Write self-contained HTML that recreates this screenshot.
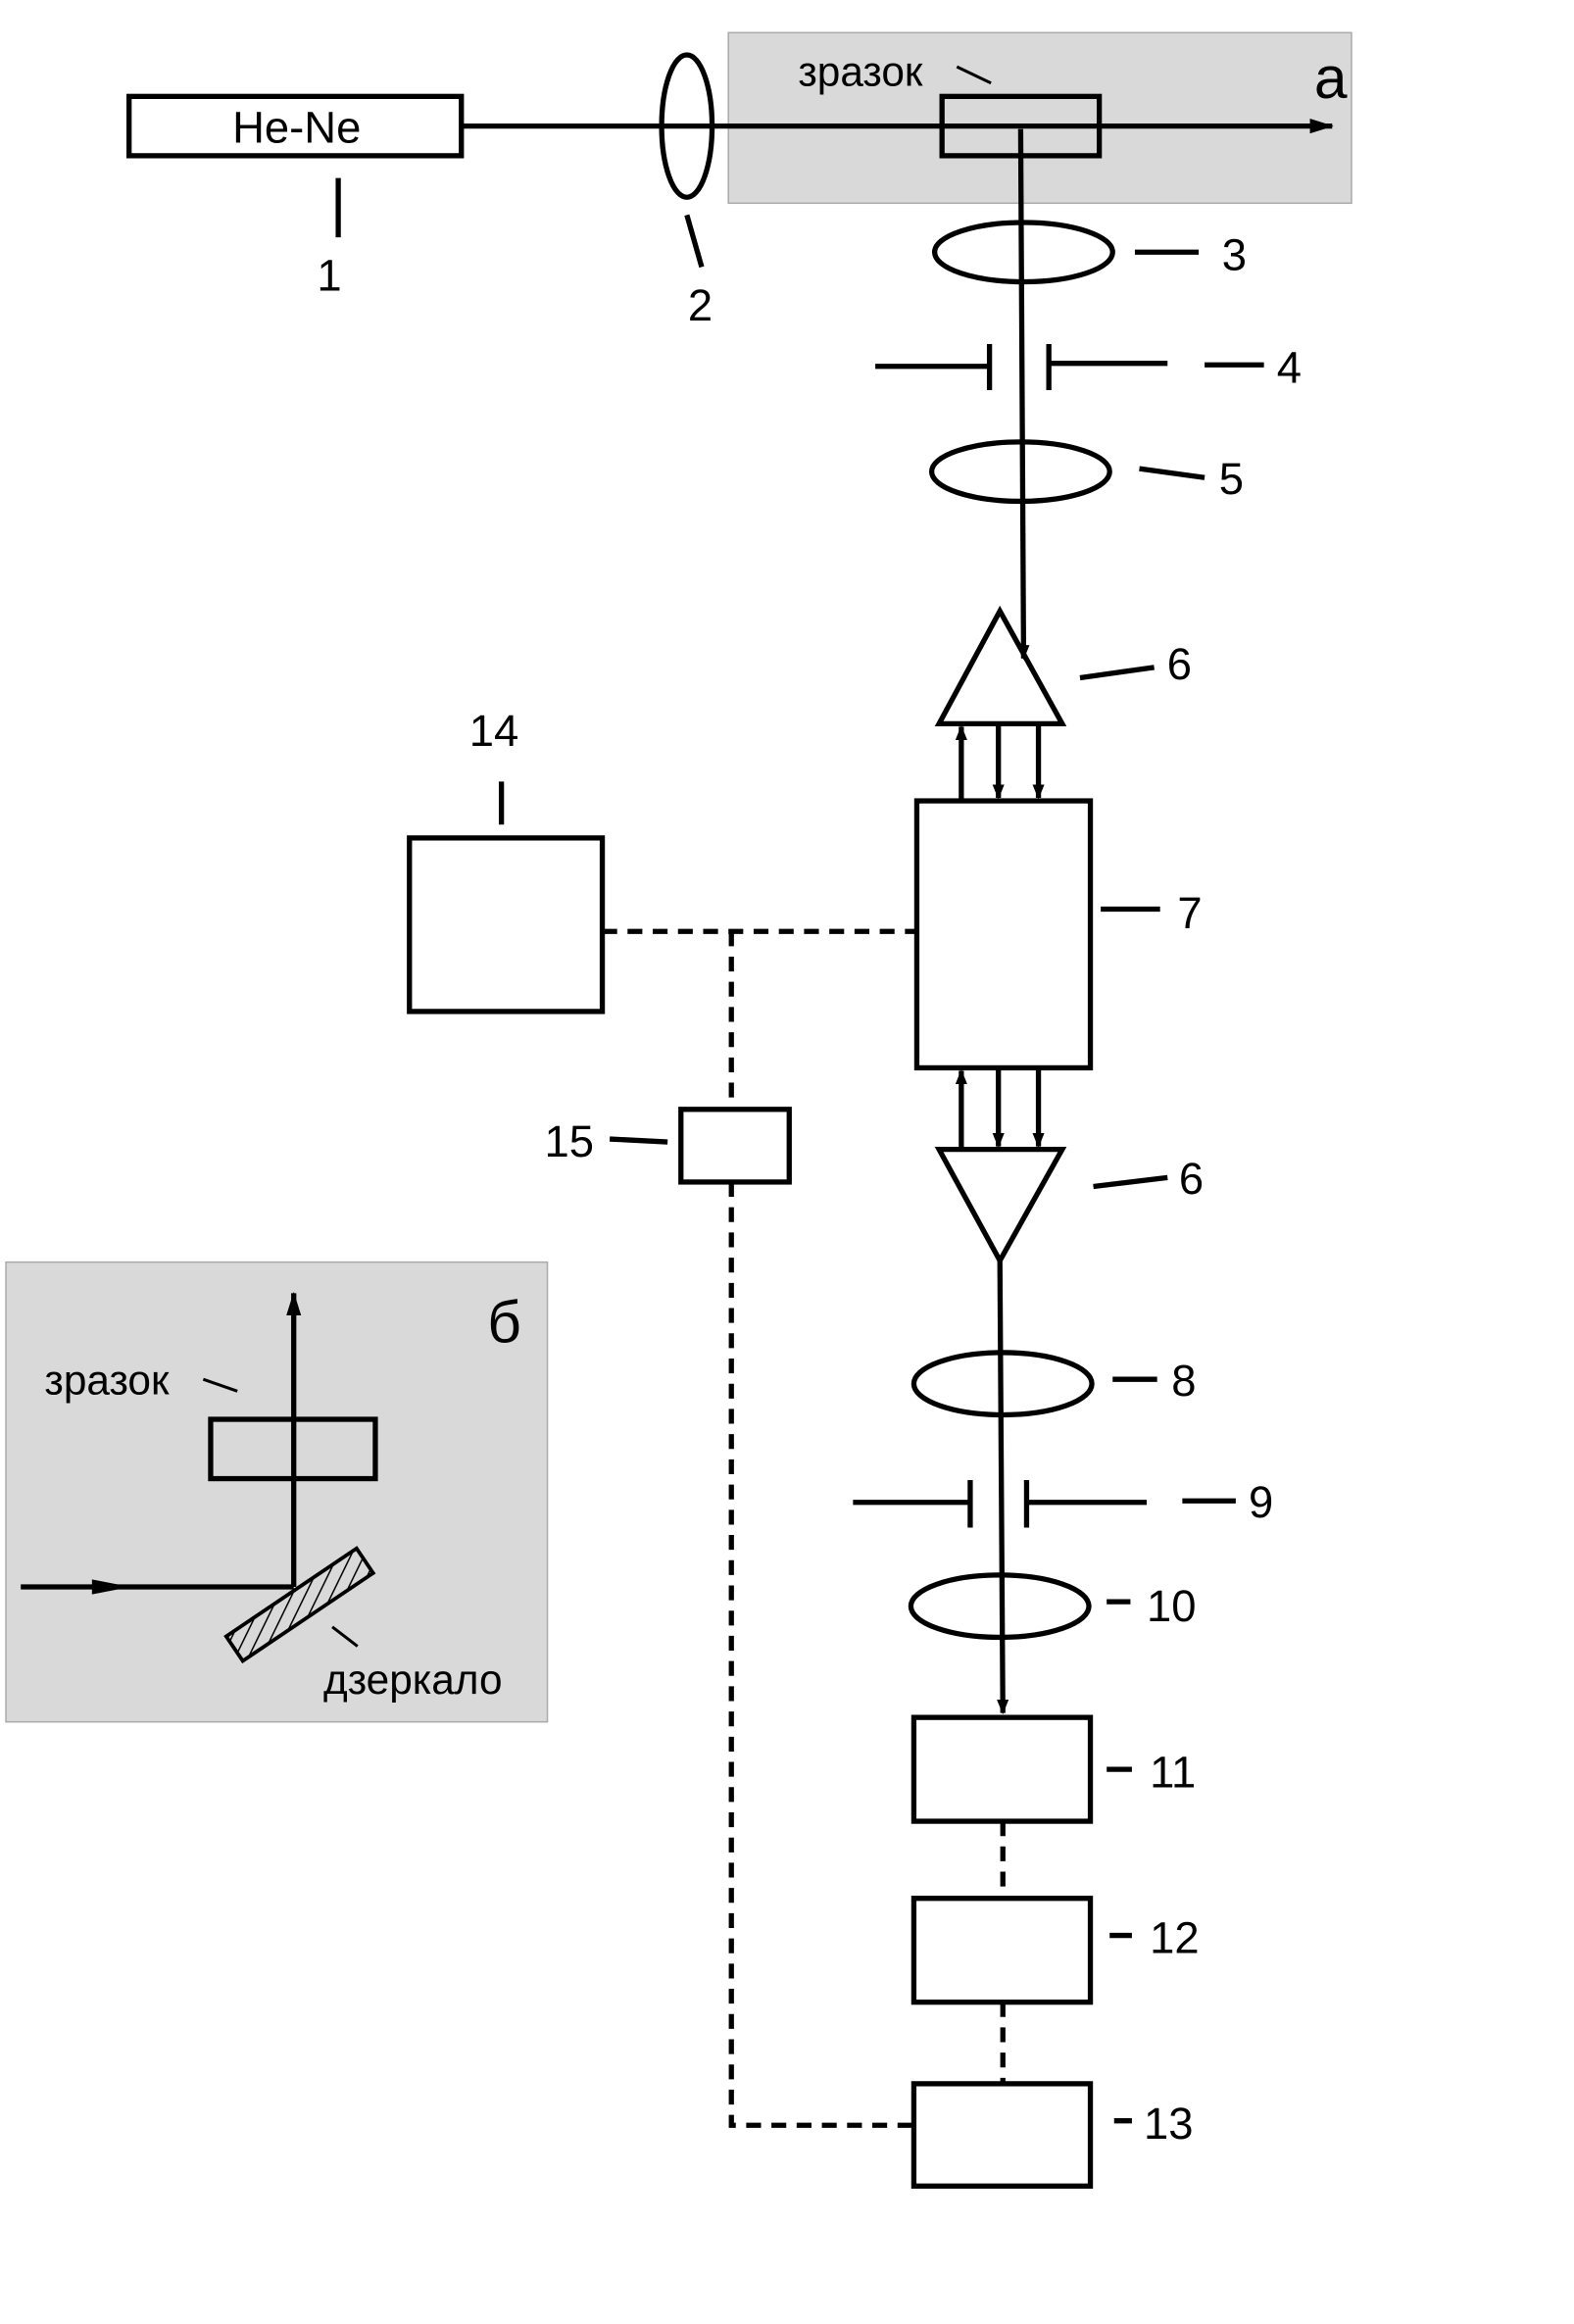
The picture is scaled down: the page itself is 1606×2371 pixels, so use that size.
<!DOCTYPE html>
<html><head><meta charset="utf-8"><style>
html,body{margin:0;padding:0;background:#fff;}
svg{display:block;}
text{font-family:"Liberation Sans","DejaVu Sans",sans-serif;fill:#000;}
</style></head><body>
<svg width="1606" height="2371" viewBox="0 0 1061 1567" preserveAspectRatio="none" xmlns="http://www.w3.org/2000/svg">
<defs>
<marker id="ah" markerWidth="10" markerHeight="8" refX="9" refY="4" orient="auto" markerUnits="userSpaceOnUse">
<path d="M0,0 L10,4 L0,8 Z" fill="#000"/></marker>
<marker id="ah2" markerWidth="16" markerHeight="10" refX="15" refY="5" orient="auto" markerUnits="userSpaceOnUse">
<path d="M0,0 L16,5 L0,10 Z" fill="#000"/></marker>
<pattern id="hatch" width="8" height="8" patternUnits="userSpaceOnUse" patternTransform="rotate(60)">
<line x1="0" y1="0" x2="0" y2="8" stroke="#000" stroke-width="2"/></pattern>
</defs>
<g stroke="#000" stroke-width="3.5" fill="none">
<rect x="491" y="22" width="420" height="115" fill="#d9d9d9" stroke="#aaa" stroke-width="1"/>
<rect x="87" y="65" width="224" height="40" fill="#fff"/>
<line x1="311" y1="85" x2="898" y2="85" marker-end="url(#ah2)"/>
<ellipse cx="463" cy="85" rx="17" ry="48"/>
<line x1="228" y1="120" x2="228" y2="160"/>
<line x1="463" y1="145" x2="473" y2="180"/>
<rect x="635" y="65" width="106" height="40"/>
<line x1="645" y1="45" x2="668" y2="56" stroke-width="2"/>
<line x1="688" y1="87" x2="690" y2="444" marker-end="url(#ah)"/>
<ellipse cx="690" cy="170" rx="60" ry="20"/>
<line x1="765" y1="170" x2="808" y2="170"/>
<line x1="590" y1="247" x2="667" y2="247"/><line x1="667" y1="232" x2="667" y2="263"/>
<line x1="707" y1="232" x2="707" y2="263"/><line x1="707" y1="245" x2="787" y2="245"/>
<line x1="812" y1="246" x2="852" y2="246"/>
<ellipse cx="688" cy="318" rx="60" ry="20"/>
<line x1="768" y1="316" x2="812" y2="322"/>
<polygon points="674,412 633,488 716,488"/>
<line x1="728" y1="457" x2="778" y2="450"/>
<line x1="648" y1="540" x2="648" y2="490" marker-end="url(#ah)"/>
<line x1="673" y1="488" x2="673" y2="538" marker-end="url(#ah)"/>
<line x1="700" y1="488" x2="700" y2="538" marker-end="url(#ah)"/>
<rect x="618" y="540" width="117" height="180"/>
<line x1="742" y1="613" x2="782" y2="613"/>
<line x1="648" y1="775" x2="648" y2="722" marker-end="url(#ah)"/>
<line x1="673" y1="720" x2="673" y2="773" marker-end="url(#ah)"/>
<line x1="700" y1="720" x2="700" y2="773" marker-end="url(#ah)"/>
<polygon points="633,775 716,775 674,850"/>
<line x1="737" y1="800" x2="787" y2="794"/>
<line x1="674" y1="850" x2="676" y2="1155" marker-end="url(#ah)"/>
<ellipse cx="676" cy="933" rx="60" ry="21"/>
<line x1="750" y1="930" x2="780" y2="930"/>
<line x1="575" y1="1013" x2="654" y2="1013"/><line x1="654" y1="998" x2="654" y2="1030"/>
<line x1="692" y1="998" x2="692" y2="1030"/><line x1="692" y1="1013" x2="773" y2="1013"/>
<line x1="797" y1="1012" x2="833" y2="1012"/>
<ellipse cx="674" cy="1083" rx="60" ry="21"/>
<line x1="746" y1="1080" x2="762" y2="1080"/>
<rect x="616" y="1158" width="119" height="70"/>
<line x1="746" y1="1193" x2="763" y2="1193"/>
<rect x="616" y="1280" width="119" height="70"/>
<line x1="748" y1="1305" x2="763" y2="1305"/>
<rect x="616" y="1405" width="119" height="69"/>
<line x1="751" y1="1430" x2="763" y2="1430"/>
<g stroke-dasharray="10,7">
<line x1="676" y1="1228" x2="676" y2="1280"/>
<line x1="676" y1="1350" x2="676" y2="1405"/>
<line x1="406" y1="628" x2="618" y2="628"/>
<line x1="493" y1="628" x2="493" y2="748"/>
<polyline points="493,797 493,1433 616,1433"/>
</g>
<rect x="276" y="565" width="130" height="117"/>
<line x1="338" y1="527" x2="338" y2="556"/>
<rect x="459" y="748" width="73" height="49"/>
<line x1="411" y1="768" x2="450" y2="770"/>
<rect x="4" y="851" width="365" height="310" fill="#d9d9d9" stroke="#aaa" stroke-width="1"/>
<line x1="198" y1="1070" x2="198" y2="872" marker-end="url(#ah2)"/>
<rect x="142" y="957" width="111" height="40"/>
<line x1="137" y1="930" x2="160" y2="938" stroke-width="2"/>
<line x1="14" y1="1070" x2="198" y2="1070"/>
<path d="M62,1065 L88,1070 L62,1075 Z" fill="#000" stroke="none"/>
<g transform="translate(202,1082) rotate(-34)">
<rect x="-53" y="-10" width="106" height="20" fill="url(#hatch)" stroke-width="2.5"/>
</g>
<line x1="224" y1="1097" x2="241" y2="1110" stroke-width="2"/>
</g>
<g font-size="30">
<text x="200" y="96" text-anchor="middle">He-Ne</text>
<text x="222" y="196" text-anchor="middle">1</text>
<text x="472" y="216" text-anchor="middle">2</text>
<text x="538" y="58" font-size="28">зразок</text>
<text x="897" y="66" font-size="40" text-anchor="middle">а</text>
<text x="832" y="182" text-anchor="middle">3</text>
<text x="869" y="258" text-anchor="middle">4</text>
<text x="830" y="333" text-anchor="middle">5</text>
<text x="795" y="458" text-anchor="middle">6</text>
<text x="802" y="626" text-anchor="middle">7</text>
<text x="803" y="805" text-anchor="middle">6</text>
<text x="798" y="941" text-anchor="middle">8</text>
<text x="850" y="1023" text-anchor="middle">9</text>
<text x="773" y="1093">10</text>
<text x="775" y="1205">11</text>
<text x="775" y="1317">12</text>
<text x="771" y="1442">13</text>
<text x="333" y="503" text-anchor="middle">14</text>
<text x="367" y="780">15</text>
<text x="340" y="905" font-size="40" text-anchor="middle">б</text>
<text x="30" y="940" font-size="28">зразок</text>
<text x="218" y="1142" font-size="28">дзеркало</text>
</g>
</svg>
</body></html>
